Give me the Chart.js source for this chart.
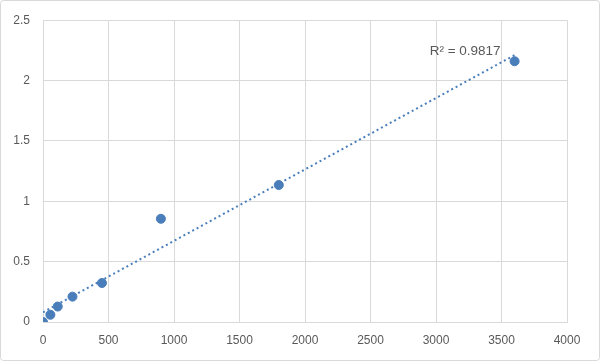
<!DOCTYPE html>
<html>
<head>
<meta charset="utf-8">
<script src="https://cdn.jsdelivr.net/npm/chart.js@4/dist/chart.umd.min.js"></script>
<style>
  body { margin: 0; background: #fff; }
  canvas { display: block; }
</style>
</head>
<body>
<canvas id="curve" width="600" height="361"></canvas>
<script>
// standard curve points
const concentrations = [0, 56.25, 112.5, 225, 450, 900, 1800, 3600];
const odValues = [0, 0.06, 0.128, 0.21, 0.323, 0.855, 1.135, 2.16];
const xTicks = [0, 500, 1000, 1500, 2000, 2500, 3000, 3500, 4000];
const yTicks = [0, 0.5, 1, 1.5, 2, 2.5];
const rSquaredLabel = 'R² = 0.9817';

// least squares fit for the trendline
function linearFit(xs, ys) {
	const n = xs.length;
	const mx = xs.reduce((a, b) => a + b, 0) / n;
	const my = ys.reduce((a, b) => a + b, 0) / n;
	let sxy = 0, sxx = 0;
	for (let i = 0; i < n; i++) {
		sxy += (xs[i] - mx) * (ys[i] - my);
		sxx += (xs[i] - mx) * (xs[i] - mx);
	}
	const slope = sxy / sxx;
	return { slope: slope, intercept: my - slope * mx };
}
const fit = linearFit(concentrations, odValues);
const xStart = concentrations[0];
const xEnd = concentrations[concentrations.length - 1];
const trendPoints = [
	{ x: xStart, y: fit.intercept + fit.slope * xStart },
	{ x: xEnd, y: fit.intercept + fit.slope * xEnd }
];

const frame = {
	id: 'frame',
	beforeDraw(chart) {
		const c = chart.ctx;
		c.save();
		c.fillStyle = '#fff';
		c.fillRect(0, 0, chart.width, chart.height);
		c.strokeStyle = '#d9d9d9';
		c.lineWidth = 1;
		c.beginPath();
		c.roundRect(0.5, 0.5, chart.width - 1, chart.height - 1, 3);
		c.stroke();
		c.restore();
	}
};

const r2Label = {
	id: 'r2Label',
	afterDatasetsDraw(chart) {
		const c = chart.ctx;
		const xs = chart.scales.x, ys = chart.scales.y;
		const end = trendPoints[1];
		c.save();
		c.font = '13.5px "Liberation Sans", Arial, sans-serif';
		c.fillStyle = '#595959';
		c.textAlign = 'right';
		c.textBaseline = 'middle';
		c.fillText(rSquaredLabel, xs.getPixelForValue(end.x) - 14, ys.getPixelForValue(end.y) - 4);
		c.restore();
	}
};

const gridColor = '#d9d9d9';
const tickFont = { family: '"Liberation Sans", Arial, sans-serif', size: 12 };

new Chart(document.getElementById('curve'), {
	type: 'scatter',
	data: {
		datasets: [
			{
				label: 'OD',
				data: concentrations.map((x, i) => ({ x: x, y: odValues[i] })),
				backgroundColor: '#4a7ebb',
				borderColor: '#4a7ebb',
				pointRadius: 4.5,
				pointHoverRadius: 4.5,
				order: 1
			},
			{
				label: 'Linear',
				data: trendPoints,
				type: 'line',
				showLine: true,
				borderColor: '#4a7ebb',
				borderWidth: 2,
				borderDash: [2, 3],
				pointRadius: 0,
				fill: false,
				order: 2
			}
		]
	},
	options: {
		responsive: false,
		animation: false,
		layout: { padding: { left: 0, top: 19, right: 33, bottom: 0 } },
		plugins: { legend: { display: false }, tooltip: { enabled: false } },
		scales: {
			x: {
				type: 'linear',
				min: 0, max: 4000,
				afterBuildTicks: (s) => { s.ticks = xTicks.map(v => ({ value: v })); },
				afterFit: (s) => { s.height = 39; },
				grid: { color: gridColor, lineWidth: 1, drawTicks: false },
				border: { color: gridColor },
				ticks: { color: '#595959', font: tickFont, padding: 11, callback: (v) => String(v) }
			},
			y: {
				min: 0, max: 2.5,
				afterBuildTicks: (s) => { s.ticks = yTicks.map(v => ({ value: v })); },
				afterFit: (s) => { s.width = 43; },
				grid: { color: gridColor, lineWidth: 1, drawTicks: false },
				border: { color: gridColor },
				ticks: { color: '#595959', font: tickFont, padding: 13, callback: (v) => String(v) }
			}
		}
	},
	plugins: [frame, r2Label]
});
</script>
</body>
</html>
